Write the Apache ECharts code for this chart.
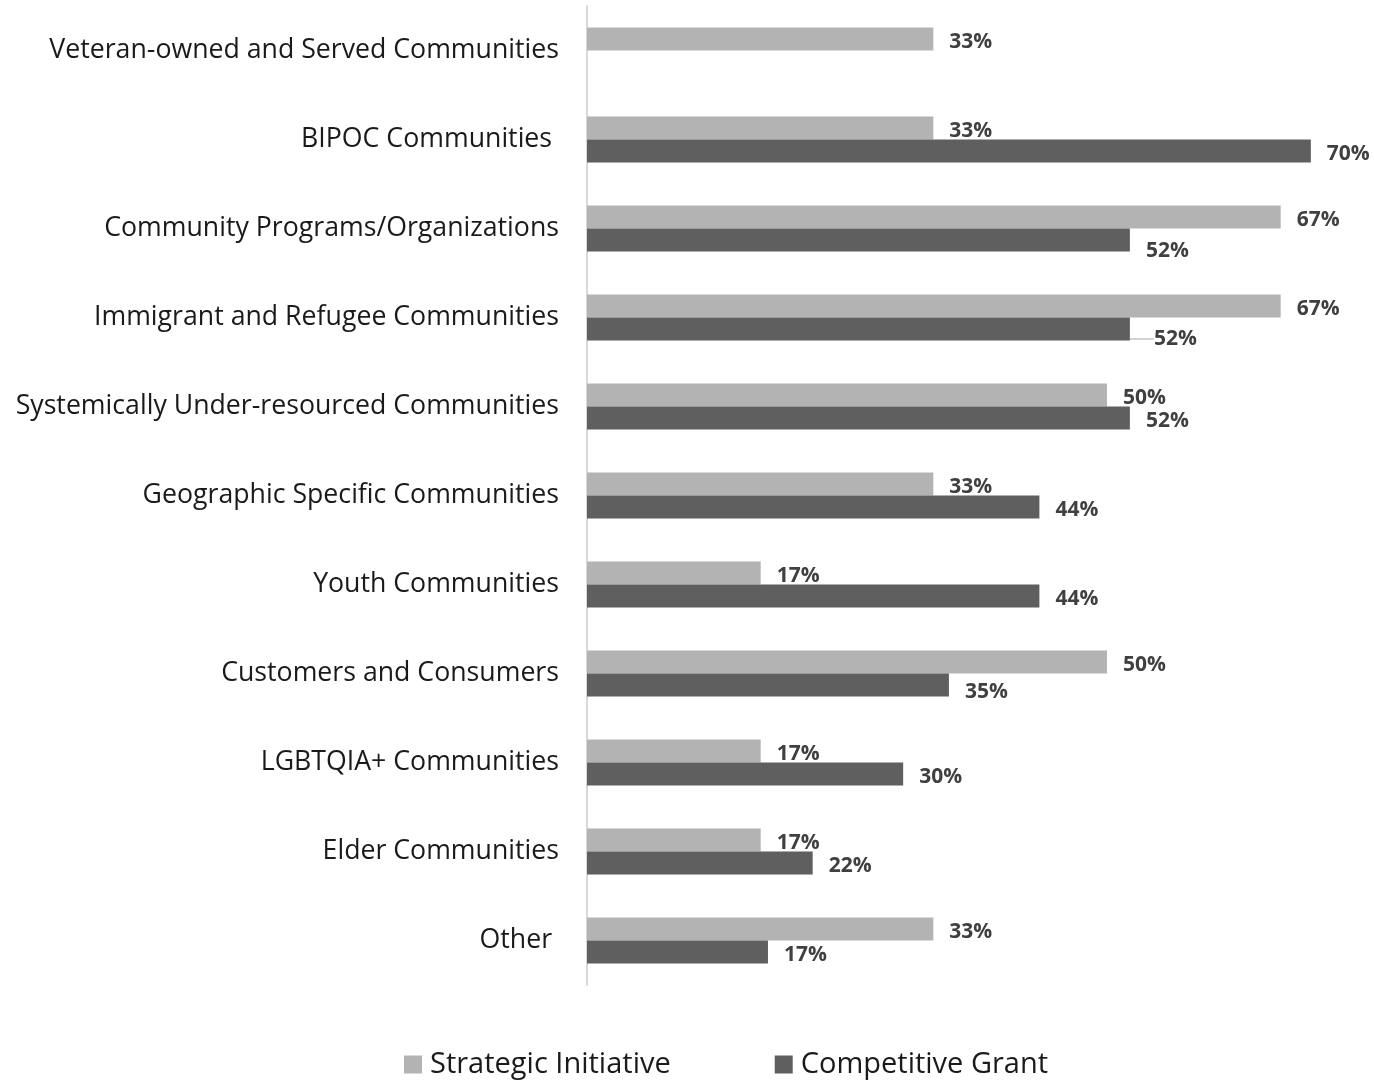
<!DOCTYPE html>
<html>
<head>
<meta charset="utf-8">
<style>
  html, body { margin: 0; padding: 0; background: #fff; }
  #chart { width: 1374px; height: 1081px; }
</style>
<script src="https://cdn.jsdelivr.net/npm/echarts@6/dist/echarts.min.js"></script>
</head>
<body>
<div id="chart"></div>
<script>
// 类别
const categories = [
  'Veteran-owned and Served Communities',
  'BIPOC Communities ',
  'Community Programs/Organizations',
  'Immigrant and Refugee Communities',
  'Systemically Under-resourced Communities',
  'Geographic Specific Communities',
  'Youth Communities',
  'Customers and Consumers',
  'LGBTQIA+ Communities',
  'Elder Communities',
  'Other '
]

// 数据 (%)
const strategicInitiative = [33.3, 33.3, 66.7, 66.7, 50.0, 33.3, 16.7, 50.0, 16.7, 16.7, 33.3]
const competitiveGrant = [null, 69.6, 52.2, 52.2, 52.2, 43.5, 43.5, 34.8, 30.4, 21.7, 17.4]

const seriesNames = ['Strategic Initiative', 'Competitive Grant']
const colors = ['#b3b3b3', '#5f5f5f']

// 标签微调 (Competitive Grant)
const grantLabelShift = { 2: [0, 8], 3: [8, 7], 7: [0, 4] }

const chart = echarts.init(document.getElementById('chart'))

const valueLabel = {
  show: true,
  position: 'right',
  distance: 16,
  color: '#404040',
  fontFamily: 'Open Sans',
  fontWeight: 'bold',
  fontSize: 21,
  formatter: p => Math.round(p.value) + '%'
}

const option = {
  animation: false,
  textStyle: { fontFamily: 'Open Sans' },
  legend: {
    top: 1045,
    left: 399,
    itemWidth: 18,
    itemHeight: 18,
    itemGap: 104,
    icon: 'rect',
    textStyle: {
      fontSize: 29,
      color: '#1a1a1a',
      fontFamily: 'Open Sans',
      padding: [0, 0, 0, 3]
    },
    data: seriesNames
  },
  grid: {
    left: 587,
    right: 7,
    top: 6,
    bottom: 96,
    containLabel: false
  },
  xAxis: {
    type: 'value',
    min: 0,
    max: 75,
    show: false
  },
  yAxis: {
    type: 'category',
    inverse: true,
    data: categories,
    axisTick: { show: false },
    axisLine: { show: true, lineStyle: { color: '#d9d9d9', width: 2 } },
    axisLabel: {
      margin: 28,
      fontSize: 26.7,
      color: '#1a1a1a',
      fontFamily: 'Open Sans'
    }
  },
  series: [
    {
      name: seriesNames[0],
      type: 'bar',
      data: strategicInitiative,
      barWidth: 23,
      barGap: '0%',
      itemStyle: { color: colors[0] },
      label: valueLabel,
      labelLayout: { dy: 3 }
    },
    {
      name: seriesNames[1],
      type: 'bar',
      data: competitiveGrant.map((v, i) => ({
        value: v,
        labelLine: { show: i === 3, lineStyle: { color: '#a6a6a6', width: 1 } }
      })),
      barWidth: 23,
      barGap: '0%',
      itemStyle: { color: colors[1] },
      label: valueLabel,
      labelLayout: p => {
        const s = grantLabelShift[p.dataIndex] || [0, 0]
        return { dx: s[0], dy: s[1] + 3 }
      }
    }
  ]
}

chart.setOption(option)
</script>
</body>
</html>
